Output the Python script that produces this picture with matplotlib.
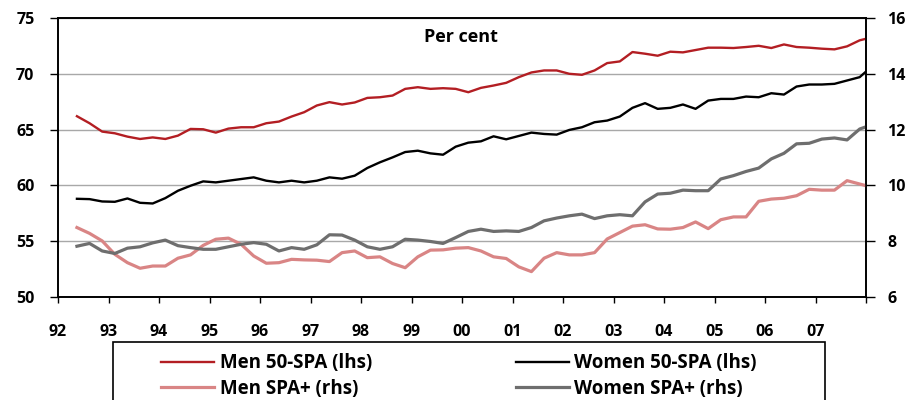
import numpy as np
import matplotlib
matplotlib.use("Agg")
import matplotlib.pyplot as plt
from matplotlib.patches import Rectangle

plt.rcParams['font.family'] = ['Open Sans', 'DejaVu Sans']
plt.rcParams['font.weight'] = 'bold'

# quarterly dates (fractional years) plus final end point
dates = list(np.arange(1992.375, 2007.9, 0.25)) + [2008.0]

men_50_spa = [66.2, 65.57, 64.82,
              64.67, 64.37, 64.16, 64.3,
              64.16, 64.46, 65.06, 65.03,
              64.73, 65.09, 65.21, 65.21,
              65.57, 65.72, 66.17, 66.56,
              67.16, 67.46, 67.25, 67.43,
              67.84, 67.9, 68.05, 68.65,
              68.8, 68.65, 68.71, 68.65,
              68.35, 68.74, 68.95, 69.19,
              69.7, 70.12, 70.3, 70.3,
              70.0, 69.91, 70.3, 70.96,
              71.11, 71.95, 71.8, 71.62,
              71.98, 71.92, 72.13, 72.34,
              72.34, 72.31, 72.4, 72.51,
              72.31, 72.63, 72.4, 72.34,
              72.25, 72.19, 72.46, 73.0,
              73.14]

women_50_spa = [58.8, 58.77, 58.56,
                58.53, 58.83, 58.44, 58.38,
                58.86, 59.52, 59.97, 60.36,
                60.27, 60.42, 60.57, 60.72,
                60.42, 60.27, 60.42, 60.27,
                60.42, 60.72, 60.6, 60.87,
                61.56, 62.07, 62.51, 62.99,
                63.11, 62.87, 62.75, 63.47,
                63.83, 63.95, 64.4, 64.13,
                64.43, 64.73, 64.61, 64.55,
                64.97, 65.21, 65.66, 65.81,
                66.17, 66.95, 67.37, 66.86,
                66.95, 67.25, 66.86, 67.6,
                67.75, 67.75, 67.96, 67.9,
                68.26, 68.14, 68.86, 69.04,
                69.04, 69.1, 69.4, 69.7,
                70.2]

men_spa_plus = [8.49, 8.28, 8.01,
                7.53, 7.23, 7.03, 7.11,
                7.11, 7.39, 7.51, 7.85,
                8.07, 8.11, 7.89, 7.47,
                7.21, 7.23, 7.35, 7.33,
                7.32, 7.27, 7.59, 7.65,
                7.41, 7.44, 7.2, 7.05,
                7.44, 7.68, 7.69, 7.75,
                7.77, 7.65, 7.44, 7.38,
                7.08, 6.91, 7.39, 7.59,
                7.51, 7.51, 7.59, 8.08,
                8.31, 8.54, 8.59, 8.44,
                8.43, 8.49, 8.69, 8.45,
                8.77, 8.87, 8.87, 9.43,
                9.51, 9.54, 9.63, 9.86,
                9.83, 9.83, 10.17, 10.05,
                9.99]

women_spa_plus = [7.82, 7.92, 7.65,
                  7.56, 7.75, 7.8, 7.94,
                  8.04, 7.84, 7.77, 7.71,
                  7.71, 7.8, 7.89, 7.95,
                  7.89, 7.65, 7.77, 7.71,
                  7.87, 8.23, 8.22, 8.04,
                  7.8, 7.71, 7.8, 8.07,
                  8.04, 7.99, 7.92, 8.13,
                  8.35, 8.43, 8.35, 8.37,
                  8.35, 8.49, 8.73, 8.83,
                  8.91, 8.97, 8.81, 8.91,
                  8.95, 8.91, 9.41, 9.69,
                  9.72, 9.83, 9.81, 9.81,
                  10.23, 10.35, 10.5, 10.62,
                  10.95, 11.15, 11.49, 11.51,
                  11.66, 11.7, 11.63, 12.02,
                  12.1]

year_ticks = list(range(1992, 2009))
year_labels = ['92', '93', '94', '95', '96', '97', '98', '99', '00', '01',
               '02', '03', '04', '05', '06', '07', '']
left_ticks = [50, 55, 60, 65, 70, 75]
right_ticks = [6, 8, 10, 12, 14, 16]

RED = '#B31E23'
BLACK = '#000000'
PINK = '#D98585'
GREY = '#6E6E6E'

fig = plt.figure(figsize=(9.14, 4.0), dpi=100)
ax = fig.add_axes([58/914, 1-297/400, (866-58)/914, (297-18)/400])
ax2 = ax.twinx()

ax.set_xlim(1992, 2008)
ax.set_ylim(50, 75)
ax2.set_ylim(6, 16)

ax.set_yticks(left_ticks)
ax2.set_yticks(right_ticks)
ax.set_xticks(year_ticks)
ax.set_xticklabels(year_labels)

ax.yaxis.grid(True, color='#A8A8A8', linewidth=1.0)
ax.set_axisbelow(True)

l1, = ax.plot(dates, men_50_spa, color=RED, lw=1.7, label='Men 50-SPA (lhs)', zorder=3)
l2, = ax.plot(dates, women_50_spa, color=BLACK, lw=1.7, label='Women 50-SPA (lhs)', zorder=3)
l3, = ax2.plot(dates, men_spa_plus, color=PINK, lw=2.3, label='Men SPA+ (rhs)')
l4, = ax2.plot(dates, women_spa_plus, color=GREY, lw=2.3, label='Women SPA+ (rhs)')

for a in (ax, ax2):
    for s in a.spines.values():
        s.set_color('black')
        s.set_linewidth(1.2)

ax.tick_params(axis='y', direction='out', length=6, width=1, pad=11, labelsize=11.5)
ax.tick_params(axis='x', direction='out', length=4.5, width=1, pad=15, labelsize=11.5)
ax2.tick_params(axis='y', direction='out', length=6.5, width=1, pad=9, labelsize=11.5)
for lab in ax.get_xticklabels() + ax.get_yticklabels() + ax2.get_yticklabels():
    lab.set_fontweight('bold')

fig.text(461/914, 1-37/400, 'Per cent', ha='center', va='center',
         fontsize=13, fontweight='bold')

# legend frame
fig.patches.append(Rectangle((113/914, -0.05), (825-113)/914, (1-342/400) + 0.05,
                             transform=fig.transFigure, fill=False,
                             edgecolor='black', linewidth=1.2))

leg_kw = dict(frameon=False, ncol=1, loc='upper left', borderpad=0,
              handlelength=2.8, handletextpad=0.3, labelspacing=0.3,
              prop={'weight': 'bold', 'size': 13.5})
leg1 = fig.legend(handles=[l1, l3], bbox_to_anchor=(152/914, 1-344/400), **leg_kw)
leg2 = fig.legend(handles=[l2, l4], bbox_to_anchor=(507/914, 1-344/400), **leg_kw)

fig.savefig('out.png', dpi=100)
